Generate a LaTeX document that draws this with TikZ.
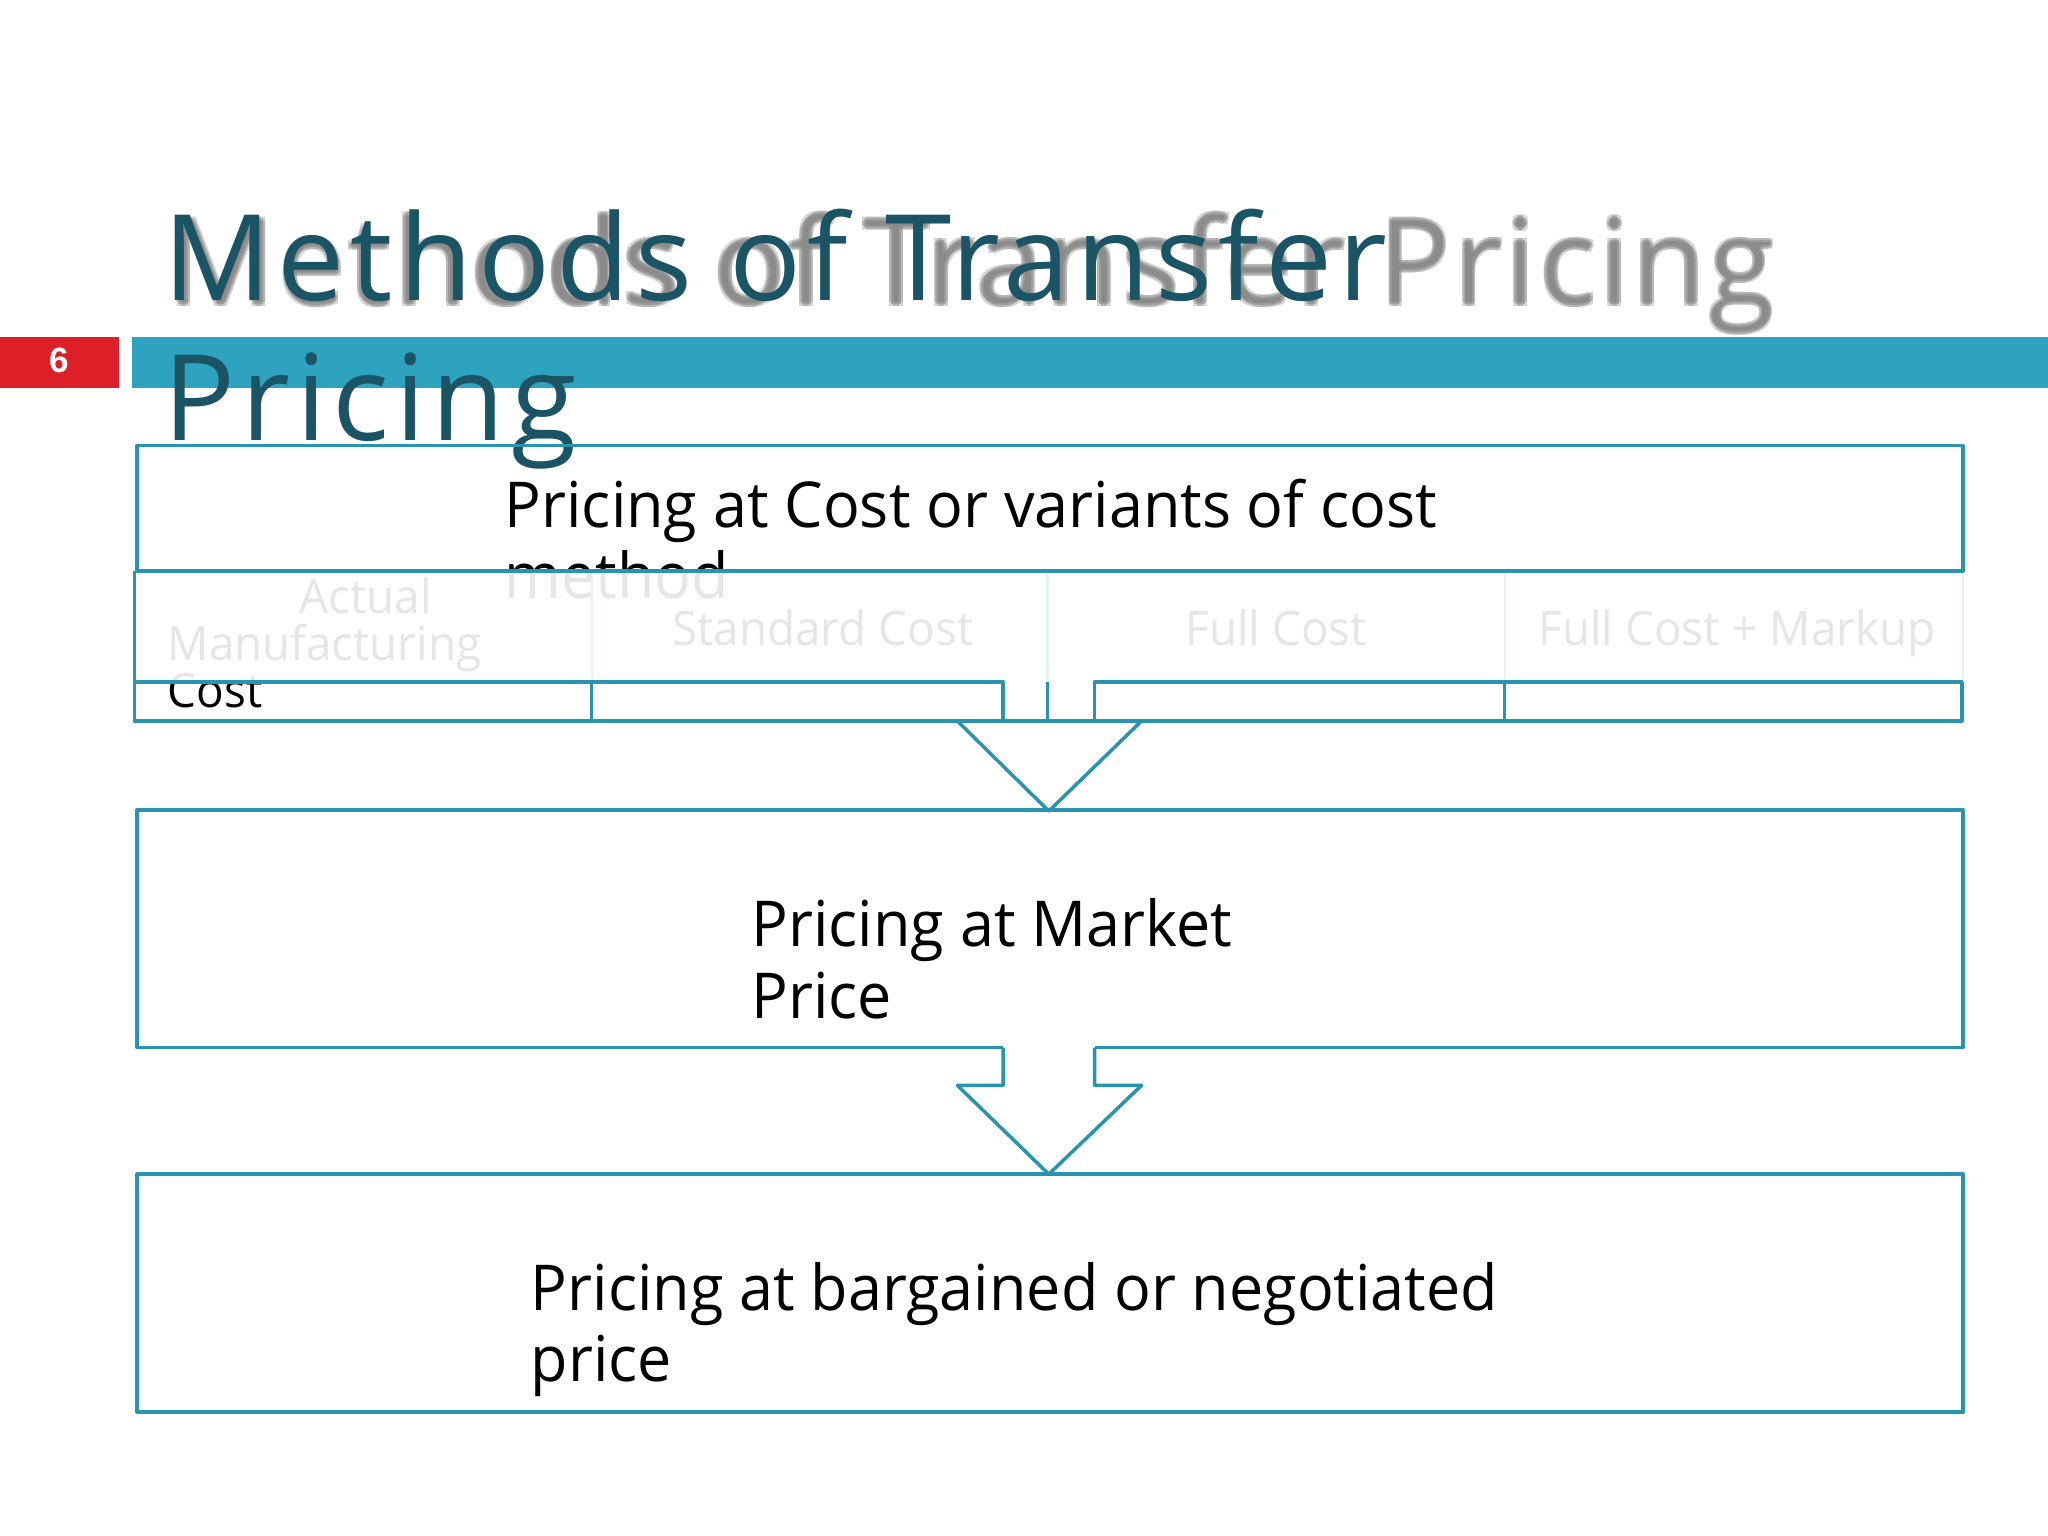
\documentclass[tikz,border=0pt]{standalone}
\usepackage{fontspec}
\setmainfont{Open Sans}
\newfontfamily\titlefont[LetterSpace=5]{Open Sans}
\newfontfamily\shadowfont[LetterSpace=2.6]{Open Sans}
\newfontfamily\bodyfont[FakeStretch=0.965]{Open Sans}
\newfontfamily\numfont{Liberation Sans}
\usetikzlibrary{positioning}
\definecolor{lineteal}{RGB}{42,148,175}
\definecolor{barteal}{RGB}{46,163,192}
\definecolor{titleteal}{RGB}{27,84,100}
\definecolor{shadowgray}{RGB}{128,128,128}
\definecolor{slidered}{RGB}{221,32,39}

\begin{document}
\begin{tikzpicture}[x=0.13061mm,y=-0.13061mm,
    box/.style={draw=lineteal,line width=1pt,line join=round},
    body/.style={anchor=base west,inner sep=0pt,font=\bodyfont\fontsize{18}{20}\selectfont},
    cell/.style={anchor=base,inner sep=0pt,font=\bodyfont\fontsize{13.5}{13.5}\selectfont},
    heading/.style={anchor=base west,inner sep=0pt,text=titleteal,font=\titlefont\fontsize{34}{40}\selectfont}]
        \useasboundingbox (0,0) rectangle (1568,1176);
        \coordinate (A) at (105,341);
        \coordinate (B) at (1503,437);
        \coordinate (C) at (105,620);
        \coordinate (D) at (1503,802);
        \coordinate (E) at (105,899);
        \coordinate (F) at (1503,1081);

        % header
        \fill[slidered] (0,258) rectangle (91,297);
        \node[inner sep=0pt,text=white,font=\numfont\bfseries\fontsize{10}{10}\selectfont] (num) at (45,276) {6};
        \fill[barteal] (101,258) rectangle (1568,297);
        \foreach \dx/\dy in {-1.5/-1.5,1.5/-1.5,-1.5/1.5,1.5/1.5}
            \node[anchor=base west,inner sep=0pt,text=shadowgray,opacity=0.35,font=\shadowfont\fontsize{34}{40}\selectfont] at (128+\dx,233+\dy) {Methods of Transfer Pricing};
        \node[anchor=base west,inner sep=0pt,text=shadowgray,opacity=0.5,font=\shadowfont\fontsize{34}{40}\selectfont] (shadow) at (128,233) {Methods of Transfer Pricing};
        \node[heading] (title1) at (125,230) {Methods of Transfer};
        \node[heading] (title2) at (125,337) {Pricing};

        % texts below the faded row
        \node[body] (cost1) at (386,404) {Pricing at Cost or variants of cost};
        \node[body] (cost2) at (386,458) {method};
        \node[cell] (actual1) at (280,470) {Actual};
        \node[cell,anchor=base west] (actual2) at (128,506) {Manufacturing};
        \node[cell,anchor=base west] (actual3) at (128,542) {Cost};
        \node[cell] (standard) at (630,494) {Standard Cost};
        \node[cell] (full) at (977,494) {Full Cost};
        \node[cell] (markup) at (1330,494) {Full Cost + Markup};
        \fill[white,opacity=0.9] (105,437) rectangle (1503,522);
        \foreach \x in {453,802,1152,1503}
            \draw[lineteal!12,line width=0.6pt] (\x,437) -- (\x,522);

        % first box and row of variants
        \draw[box] (A) rectangle (B);
        \draw[box] (103,437) -- (103,552) -- (1502,552) -- (1502,522);
        \draw[box] (103,522) -- (768,522) -- (768,552);
        \draw[box] (838,552) -- (838,522) -- (1503,522);
        \foreach \x in {453,802,1152}
            \draw[box] (\x,522) -- (\x,552);
        \draw[box] (768,552) -- (733,552) -- (803,621) -- (874,552) -- (838,552);

        % second box
        \draw[box] (768,802) -- (C |- D) -- (C) -- (D |- C) -- (D) -- (838,802);
        \draw[box] (768,802) -- (768,831) -- (733,831) -- (803,899) -- (874,831) -- (838,831) -- (838,802);
        \node[body] (market1) at (575,725) {Pricing at Market};
        \node[body] (market2) at (575,780) {Price};

        % third box
        \draw[box] (E) rectangle (F);
        \node[body] (bargain1) at (406,1003) {Pricing at bargained or negotiated};
        \node[body] (bargain2) at (406,1058) {price};
    \end{tikzpicture}
\end{document}
